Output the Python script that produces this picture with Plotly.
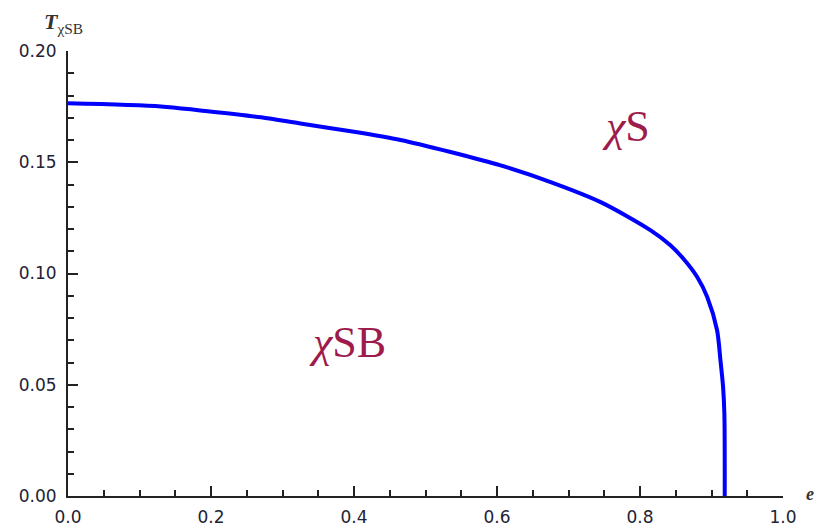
import plotly.graph_objects as go

# Phase boundary T_chiSB(e)
e_vals = [0.00, 0.13, 0.185, 0.27, 0.325, 0.40, 0.465, 0.535, 0.605, 0.675, 0.745,
          0.815, 0.8425, 0.861, 0.880, 0.894, 0.9078, 0.9125, 0.9162, 0.918, 0.9185]
T_vals = [0.1765, 0.1751, 0.1733, 0.1702, 0.1674, 0.1637, 0.1600, 0.1546, 0.1486, 0.1411, 0.1321,
          0.1194, 0.1127, 0.1065, 0.0984, 0.0894, 0.0745, 0.061, 0.049, 0.037, 0.0]

x_ticks = [0.0, 0.2, 0.4, 0.6, 0.8, 1.0]
x_tick_labels = ["0.0", "0.2", "0.4", "0.6", "0.8", "1.0"]
y_ticks = [0.00, 0.05, 0.10, 0.15, 0.20]
y_tick_labels = ["0.00", "0.05", "0.10", "0.15", "0.20"]

region_labels = ["<i>χ</i>SB", "<i>χ</i>S"]
region_x = [0.391, 0.781]
region_y = [0.069, 0.166]

label_color = "#9E1C4C"
tick_color = "#222233"
axis_color = "#222222"

fig = go.Figure()
fig.add_trace(go.Scatter(
    x=e_vals, y=T_vals, mode="lines",
    line=dict(color="#0000FF", width=4, shape="spline", smoothing=0.8),
    hoverinfo="skip", showlegend=False,
))

for txt, xx, yy in zip(region_labels, region_x, region_y):
    fig.add_annotation(
        x=xx, y=yy, xref="x", yref="y", text=txt, showarrow=False,
        font=dict(family="Liberation Serif", size=44, color=label_color),
        xanchor="center", yanchor="middle",
    )

# axis titles
fig.add_annotation(
    x=-0.036, y=1.062, xref="paper", yref="paper",
    text="<b><i>T</i></b><sub>χSB</sub>", showarrow=False,
    font=dict(family="Liberation Serif", size=22, color="#333333"),
    xanchor="left", yanchor="middle",
)
fig.add_annotation(
    x=1.038, y=0.004, xref="paper", yref="paper",
    text="<b><i>e</i></b>", showarrow=False,
    font=dict(family="Liberation Serif", size=18, color="#333333"),
    xanchor="center", yanchor="middle",
)

axis_common = dict(
    showgrid=False, zeroline=False, showline=True, linecolor=axis_color, linewidth=2,
    ticks="inside", ticklen=10, tickwidth=1.5, tickcolor=axis_color,
    tickfont=dict(family="DejaVu Sans", size=17, color=tick_color),
    mirror=False, automargin=False,
)

fig.update_xaxes(
    range=[0, 1.0], tickvals=x_ticks, ticktext=x_tick_labels,
    minor=dict(dtick=0.05, ticks="inside", ticklen=6, tickwidth=1.5, tickcolor=axis_color),
    ticklabelstandoff=5,
    **axis_common,
)
fig.update_yaxes(
    range=[0, 0.2], tickvals=y_ticks, ticktext=y_tick_labels,
    minor=dict(dtick=0.01, ticks="inside", ticklen=6, tickwidth=1.5, tickcolor=axis_color),
    ticklabelstandoff=6,
    **axis_common,
)

fig.update_layout(
    width=819, height=524,
    margin=dict(l=60, r=44, t=43, b=36),
    paper_bgcolor="white", plot_bgcolor="white",
)

fig.write_html("out.html")
